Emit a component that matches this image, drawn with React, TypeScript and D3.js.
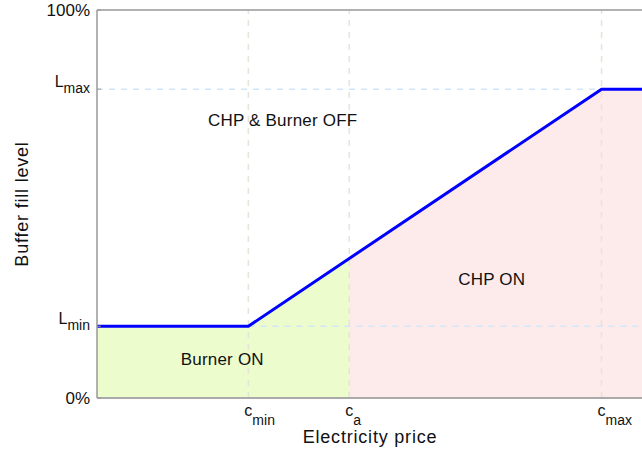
import React from "react";
import * as d3 from "d3";

const priceTicks = [3, 5, 10];
const priceTickNames = ["min", "a", "max"];
const levelTicks = [0, 18.5, 79.6, 100];
const levelTickLabels = ["0%", "L", "L", "100%"];
const levelTickSubs = ["", "min", "max", ""];
const curvePrice = [0, 3, 10, 11];
const curveLevel = [18.5, 18.5, 79.6, 79.6];
const regionLabels = ["CHP & Burner OFF", "CHP ON", "Burner ON"];
const regionPrice = [2.2, 7.16, 1.66];
const regionLevel = [70.1, 29.1, 8.5];

const W = 642, H = 456;
const x = d3.scaleLinear().domain([0, 11]).range([97, 652]);
const y = d3.scaleLinear().domain([0, 100]).range([398, 10]);

export default function App() {
  const pts = curvePrice.map((p, i) => [p, curveLevel[i]] as [number, number]);
  const line = d3.line<[number, number]>().x(d => x(d[0])).y(d => y(d[1]));
  const area = d3.area<[number, number]>().x(d => x(d[0])).y0(y(0)).y1(d => y(d[1]));
  const levelAt = (p: number) => {
    for (let i = 0; i < curvePrice.length - 1; i++) {
      if (p >= curvePrice[i] && p <= curvePrice[i + 1]) {
        const t = (p - curvePrice[i]) / (curvePrice[i + 1] - curvePrice[i]);
        return curveLevel[i] + t * (curveLevel[i + 1] - curveLevel[i]);
      }
    }
    return curveLevel[curveLevel.length - 1];
  };
  const ca = priceTicks[1];
  const greenPts: [number, number][] = [...pts.filter(d => d[0] < ca), [ca, levelAt(ca)]];
  const pinkPts: [number, number][] = [[ca, levelAt(ca)], ...pts.filter(d => d[0] > ca)];
  const font = "Arial, 'Liberation Sans', Helvetica, sans-serif";
  return (
    <svg width={W} height={H} style={{ position: "absolute", left: 0, top: 0, background: "#fff" }} fontFamily={font}>
      <path d={area(greenPts) || ""} fill="#edfccc" />
      <path d={area(pinkPts) || ""} fill="#fdeaea" />
      {priceTicks.map((p, i) => (
        <line key={"vg" + i} x1={x(p)} x2={x(p)} y1={y(0)} y2={y(100)} stroke="#e4e4d8" strokeWidth={1.5} strokeDasharray="6,6" />
      ))}
      <line x1={x(0)} x2={x(priceTicks[2])} y1={y(levelTicks[2])} y2={y(levelTicks[2])} stroke="#cfe6fb" strokeWidth={1.5} strokeDasharray="6,6" />
      <line x1={x(priceTicks[0])} x2={x(11)} y1={y(levelTicks[1])} y2={y(levelTicks[1])} stroke="#cfe6fb" strokeWidth={1.5} strokeDasharray="6,6" />
      <path d={line(pts) || ""} fill="none" stroke="#0000ff" strokeWidth={3} />
      <line x1={x(0)} x2={W} y1={y(100)} y2={y(100)} stroke="#999" strokeWidth={1.5} />
      <line x1={x(0)} x2={W} y1={y(0)} y2={y(0)} stroke="#aaa" strokeWidth={2} />
      <line x1={x(0)} x2={x(0)} y1={y(0)} y2={y(100)} stroke="#999" strokeWidth={1.5} />
      {levelTicks.map((v, i) => (
        <g key={"yt" + i}>
          <line x1={x(0)} x2={x(0) + 4} y1={y(v)} y2={y(v)} stroke="#999" />
          {levelTickSubs[i] ? (
            <text x={90} y={y(v) - 2} textAnchor="end" fontSize={16} fill="#111">
              {levelTickLabels[i]}
              <tspan fontSize={14} dy={6}>{levelTickSubs[i]}</tspan>
            </text>
          ) : (
            <text x={90} y={y(v) + 6} textAnchor="end" fontSize={17} fill="#111">{levelTickLabels[i]}</text>
          )}
        </g>
      ))}
      {priceTicks.map((p, i) => (
        <text key={"xt" + i} x={x(p) - 4} y={416} fontSize={16} fill="#111">
          c<tspan fontSize={14} dy={9}>{priceTickNames[i]}</tspan>
        </text>
      ))}
      <text x={370} y={443} textAnchor="middle" fontSize={18} letterSpacing={0.8} fill="#111">Electricity price</text>
      <text transform={`translate(28,204) rotate(-90)`} textAnchor="middle" fontSize={18} letterSpacing={0.8} fill="#111">Buffer fill level</text>
      {regionLabels.map((t, i) => (
        <text key={"rl" + i} x={x(regionPrice[i])} y={y(regionLevel[i])} fontSize={17} letterSpacing={0.2} fill="#111">{t}</text>
      ))}
    </svg>
  );
}
